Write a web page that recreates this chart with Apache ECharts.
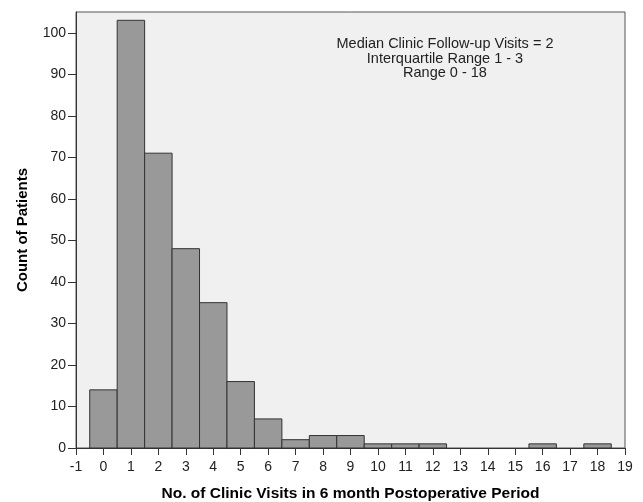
<!DOCTYPE html>
<html><head><meta charset="utf-8">
<script src="https://cdn.jsdelivr.net/npm/echarts@6/dist/echarts.min.js"></script>
<style>html,body{margin:0;padding:0;background:#fff}#c{width:643px;height:502px}</style>
</head><body><div id="c"></div>
<script>
const visits = [0,1,2,3,4,5,6,7,8,9,10,11,12,13,14,15,16,17,18];
const counts = [14,103,71,48,35,16,7,2,3,3,1,1,1,0,0,0,1,0,1];
const yTicks = [0,10,20,30,40,50,60,70,80,90,100];
const xTitle = 'No. of Clinic Visits in 6 month Postoperative Period';
const yTitle = 'Count of Patients';
const noteLines = ['Median Clinic Follow-up Visits = 2','Interquartile Range 1 - 3','Range 0 - 18'];

const chart = echarts.init(document.getElementById('c'), null, {renderer:'canvas'});
const font = 'Liberation Sans, Arial, sans-serif';
chart.setOption({
  animation:false,
  backgroundColor:'#fff',
  grid:{left:76,right:18,top:12,bottom:54,containLabel:false,outerBoundsMode:'none',show:true,backgroundColor:'#f0f0f0',borderColor:'#555',borderWidth:1},
  xAxis:{type:'value',min:-1,max:19,interval:1,
    name:xTitle,nameLocation:'middle',nameGap:38,
    nameTextStyle:{fontFamily:font,fontWeight:'bold',fontSize:15.5,color:'#000'},
    axisLine:{show:true,onZero:false,lineStyle:{color:'#333',width:1}},
    axisTick:{show:true,length:7,lineStyle:{color:'#333'}},
    axisLabel:{fontFamily:font,fontSize:14,color:'#222',margin:12},
    splitLine:{show:false}},
  yAxis:{type:'value',min:0,max:105,interval:10,
    name:yTitle,nameLocation:'middle',nameGap:46,
    nameTextStyle:{fontFamily:font,fontWeight:'bold',fontSize:15,color:'#000'},
    axisLine:{show:true,onZero:false,lineStyle:{color:'#333',width:1}},
    axisTick:{show:true,length:8,customValues:yTicks,lineStyle:{color:'#333'}},
    axisLabel:{fontFamily:font,fontSize:14,color:'#222',margin:10,customValues:yTicks},
    splitLine:{show:false}},
  graphic:[{type:'text',x:445,y:37,
    style:{text:noteLines.join('\n'),textAlign:'center',textVerticalAlign:'top',fontFamily:font,fontSize:14.5,lineHeight:14.5,fill:'#222'}}],
  series:[{type:'custom',
    data:visits.map((v,i)=>[v,counts[i]]),
    renderItem:(params,api)=>{
      const x=api.value(0), y=api.value(1);
      if(!y) return null;
      const p0=api.coord([x-0.5,0]), p1=api.coord([x+0.5,y]);
      return {type:'rect',shape:{x:p0[0],y:p1[1],width:p1[0]-p0[0],height:p0[1]-p1[1]},
        style:{fill:'#999999',stroke:'#333',lineWidth:1}};
    }}]
});
</script></body></html>
